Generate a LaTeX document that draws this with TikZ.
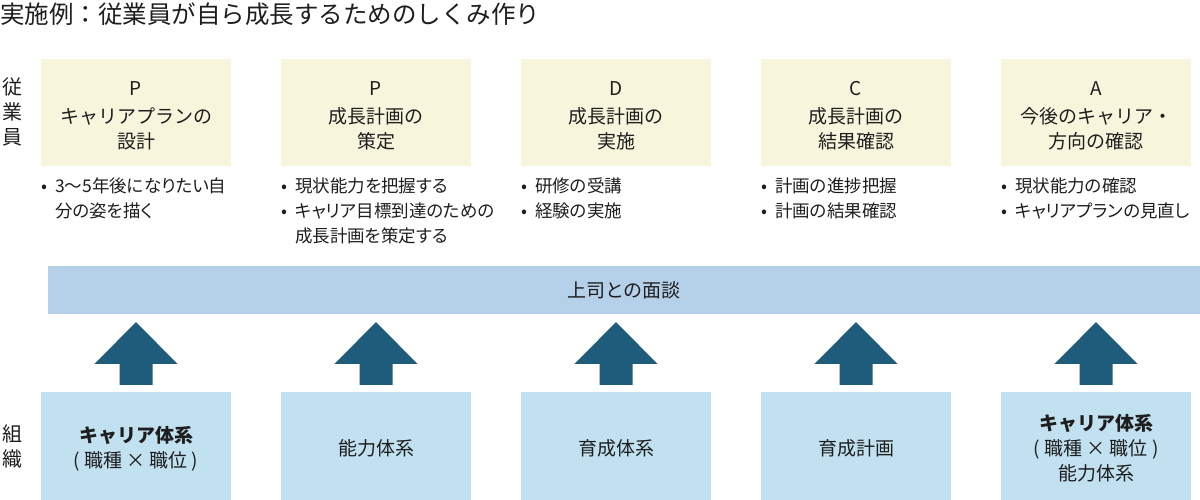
\documentclass[tikz,border=0pt]{standalone}
\usepackage{fontspec}
\setmainfont{Noto Sans CJK JP}
\newfontfamily\paltfont{Noto Sans CJK JP}[RawFeature={+palt}]
\usepackage{tikz}
\usetikzlibrary{calc}
\definecolor{planfill}{HTML}{F7F6DC}
\definecolor{talkfill}{HTML}{B5D0E9}
\definecolor{sysfill}{HTML}{C1E1F0}
\definecolor{upfill}{HTML}{1F5B7B}
\definecolor{ink}{HTML}{1E1E1E}
\tikzset{
  phasebox/.style = {fill=planfill, minimum width=190pt, minimum height=107pt,
                     inner sep=0pt},
  sysbox/.style   = {fill=sysfill, minimum width=190pt, minimum height=108pt,
                     inner sep=0pt},
  boxtext/.style  = {align=center, inner sep=0pt, text=ink,
                     font=\fontsize{19}{25}\selectfont},
  notes/.style    = {anchor=north west, inner sep=0pt, text=ink,
                     font=\paltfont\fontsize{17.5}{25}\selectfont},
  sidelabel/.style= {align=center, inner sep=0pt, text=ink,
                     font=\fontsize{20}{25}\selectfont}
}
\newcommand{\notelist}[1]{\begin{tabular}{@{}p{14pt}@{}l@{}}#1\end{tabular}}
\newcommand{\blockarrow}[1]{
  \fill[upfill] ($(#1.north)+(-16.5,-7)$) -- ++(0,-21) -- ++(-25,0)
    -- ($(#1.north |- talk.south)+(0,8)$)
    -- ($(#1.north)+(41.5,-28)$) -- ++(-25,0) -- ++(0,21) -- cycle;
}
\newcommand{\phasecol}[5]{
  \node[phasebox] (p#1) at (#2,112.5) {};
  \node[boxtext] (pt#1) at ($(p#1.center)+(0,3.5)$) {#3};
  \node[notes] (n#1) at (#2-95,175) {\notelist{#4}};
  \node[sysbox] (s#1) at (#2,446) {};
  \node[boxtext] (st#1) at ($(s#1.center)+(0,2.5)$) {#5};
  \blockarrow{s#1}
}

\begin{document}
\begin{tikzpicture}[x=1pt,y=-1pt]
  \useasboundingbox (0,0) rectangle (1200,500);
  \node[anchor=west, inner sep=0pt, text=ink, font=\fontsize{24.5}{26}\selectfont]
    (title) at (0,14) {実施例：従業員が自ら成長するためのしくみ作り};
  \node[sidelabel] (emp) at (12,112) {従\\業\\員};
  \node[sidelabel] (org) at (12,446) {組\\織};
  \node[fill=talkfill, minimum width=1152pt, minimum height=48pt, inner sep=0pt,
        text=ink, font=\fontsize{19}{25}\selectfont] (talk) at (624,290) {上司との面談};
  \phasecol{1}{136}{P\\[3pt]キャリアプランの\\設計}
    {•&3～5年後になりたい自\\&分の姿を描く}
    {{\bfseries キャリア体系}\\( 職種 × 職位 )}
  \phasecol{2}{376}{P\\[3pt]成長計画の\\策定}
    {•&現状能力を把握する\\•&キャリア目標到達のための\\&成長計画を策定する}
    {能力体系}
  \phasecol{3}{616}{D\\[3pt]成長計画の\\実施}
    {•&研修の受講\\•&経験の実施}
    {育成体系}
  \phasecol{4}{856}{C\\[3pt]成長計画の\\結果確認}
    {•&計画の進捗把握\\•&計画の結果確認}
    {育成計画}
  \phasecol{5}{1096}{A\\[3pt]今後のキャリア・\\方向の確認}
    {•&現状能力の確認\\•&キャリアプランの見直し}
    {{\bfseries キャリア体系}\\( 職種 × 職位 )\\能力体系}
\end{tikzpicture}
\end{document}
